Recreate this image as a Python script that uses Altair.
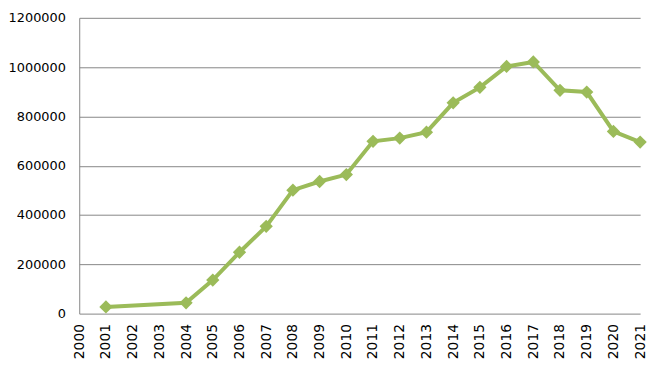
import altair as alt
import pandas as pd

years = [str(y) for y in range(2000, 2022)]
values = [None, 27000, None, None, 44000, 136000, 249000, 354000, 501000, 536000,
          564000, 699000, 712000, 736000, 855000, 918000, 1003000, 1021000,
          906000, 899000, 739000, 696000]

df = pd.DataFrame({"year": years, "value": values})
df_pts = df.dropna()

x = alt.X("year:O", sort=years,
          scale=alt.Scale(type="point", padding=0, domain=years),
          axis=alt.Axis(title=None, labelAngle=-90, labelAlign="right", labelBaseline="middle",
                        labelFont="DejaVu Sans", labelFontSize=14, labelColor="#000000",
                        labelPadding=10, ticks=False, domain=False, grid=False))
y = alt.Y("value:Q", scale=alt.Scale(domain=[0, 1200000], nice=False),
          axis=alt.Axis(title=None, values=[0, 200000, 400000, 600000, 800000, 1000000, 1200000],
                        format="d", labelFont="DejaVu Sans", labelFontSize=13, labelColor="#000000",
                        labelPadding=14, ticks=False, domain=True, domainColor="#868686",
                        gridColor="#868686", gridWidth=1, labelFlush=False))

line = alt.Chart(df_pts).mark_line(color="#9BBB59", strokeWidth=4).encode(x=x, y=y)
pts = alt.Chart(df_pts).mark_point(shape="diamond", filled=True, color="#9BBB59",
                                   size=180, opacity=1).encode(x=x, y=y)

chart = (line + pts).properties(
    width=567, height=299,
    autosize=alt.AutoSizeParams(type="none"),
    padding={"left": 72, "top": 8, "right": 13, "bottom": 50},
).configure_view(stroke=None).configure_axis(domainWidth=1)

chart.save("out.html", embed_options={"renderer": "svg", "actions": False})
